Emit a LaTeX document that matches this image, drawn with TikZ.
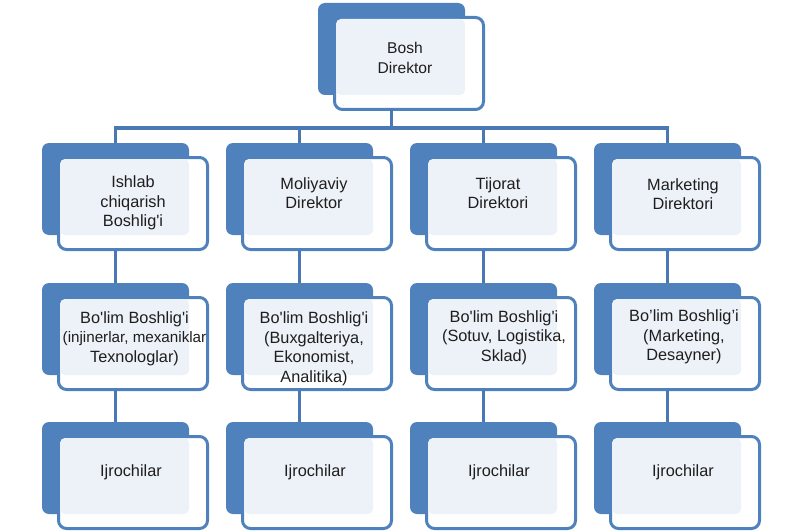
\documentclass[tikz,border=0pt]{standalone}
\usepackage{fontspec}
\setmainfont{Liberation Sans}
\definecolor{boxblue}{HTML}{4F81BD}
\definecolor{lineblue}{HTML}{4A78B5}
\definecolor{lightfill}{HTML}{EDF1F8}
\definecolor{txtcol}{HTML}{1E1E1E}
\newcommand\sq{\textquotesingle}
\newcommand\smallline[1]{{\fontsize{15.2}{19.5}\selectfont #1}}
\tikzset{
  backbox/.style={rectangle, rounded corners=7pt, fill=boxblue, draw=none,
    minimum width=147pt, minimum height=92pt, inner sep=0pt, outer sep=0pt},
  frontbox/.style={rectangle, rounded corners=8pt, fill=white, draw=boxblue, line width=3pt,
    minimum width=149pt, minimum height=92pt, inner sep=0pt, outer sep=0pt},
  lightbox/.style={rectangle, rounded corners=5pt, fill=lightfill, draw=none,
    minimum width=129pt, minimum height=76pt, inner sep=0pt, outer sep=0pt},
  txt/.style={align=center, text=txtcol, inner sep=0pt,
    font=\fontsize{16.3}{19.5}\selectfont},
  toptxt/.style={txt, font=\fontsize{15.6}{19.5}\selectfont},
  conn/.style={draw=lineblue, line width=3.5pt}
}
% name, X, Y, text y offset, text x offset, text style, text
\newcommand\orgunit[7]{%
  \node[backbox] (#1b) at ({#2+73.5},{#3+46}) {};
  \node[frontbox] (#1f) at ({#2+91},{#3+60.5}) {};
  \node[lightbox] (#1l) at ({#2+82.5},{#3+54}) {};
  \node[#6] (#1t) at ({#2+#5},{#3+#4}) {#7};
}
\begin{document}
\begin{tikzpicture}[x=1pt,y=-1pt]
\useasboundingbox (0,0) rectangle (800,532);
\coordinate (bus) at (0,128);

\orgunit{top}{318}{3}{55}{87}{toptxt}{Bosh\\Direktor}

\orgunit{a1}{42}{143}{60}{91}{txt}{Ishlab\\chiqarish\\Boshlig\sq i}
\orgunit{b1}{226}{143}{50}{88}{txt}{Moliyaviy\\Direktor}
\orgunit{c1}{410}{143}{50}{88}{txt}{Tijorat\\Direktori}
\orgunit{d1}{594}{143}{51}{89}{txt}{Marketing\\Direktori}

\orgunit{a2}{42}{283}{55.5}{92.5}{txt}{Bo\sq lim Boshlig\sq i\\\smallline{(injinerlar, mexaniklar}\\Texnologlar)}
\orgunit{b2}{226}{283}{66}{88}{txt}{Bo\sq lim Boshlig\sq i\\(Buxgalteriya,\\Ekonomist,\\Analitika)}
\orgunit{c2}{410}{283}{54.5}{94}{txt}{Bo\sq lim Boshlig\sq i\\(Sotuv, Logistika,\\Sklad)}
\orgunit{d2}{594}{283}{54}{90}{txt}{Bo’lim Boshlig’i\\(Marketing,\\Desayner)}

\orgunit{a3}{42}{422}{50}{89}{txt}{Ijrochilar}
\orgunit{b3}{226}{422}{50}{89}{txt}{Ijrochilar}
\orgunit{c3}{410}{422}{50}{89}{txt}{Ijrochilar}
\orgunit{d3}{594}{422}{50}{89}{txt}{Ijrochilar}

% connectors
\draw[conn] (topb |- topf.south) -- (topb |- bus);
\draw[conn] (a1b.north) -- (a1b |- bus) -- (d1b |- bus) -- (d1b.north);
\draw[conn] (b1b |- bus) -- (b1b.north);
\draw[conn] (c1b |- bus) -- (c1b.north);
\foreach \c in {a,b,c,d}{
  \draw[conn] (\c1b |- \c1f.south) -- (\c2b.north);
  \draw[conn] (\c2b |- \c2f.south) -- (\c3b.north);
}
\end{tikzpicture}
\end{document}
